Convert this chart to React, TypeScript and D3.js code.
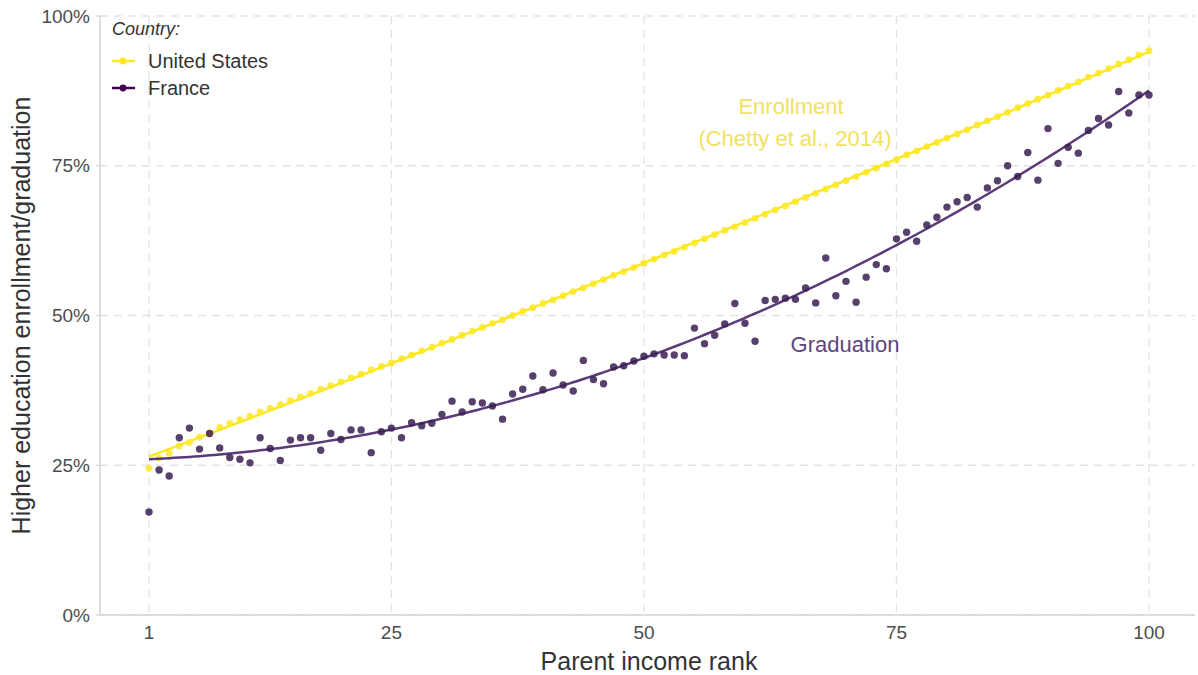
import React from "react";
import * as d3 from "d3";

const ranks: number[] = d3.range(1, 101);

const usEnrollment: number[] = [
  24.5, 26.2, 27.0, 28.2, 28.8, 29.7, 30.4, 31.3, 32.0, 32.6,
  33.2, 33.9, 34.5, 35.1, 35.8, 36.4, 37.0, 37.7, 38.3, 38.9,
  39.6, 40.2, 40.9, 41.5, 42.1, 42.8, 43.4, 44.1, 44.7, 45.4,
  46.0, 46.7, 47.4, 48.0, 48.7, 49.3, 50.0, 50.7, 51.3, 52.0,
  52.6, 53.3, 54.0, 54.6, 55.3, 56.0, 56.7, 57.3, 58.0, 58.7,
  59.4, 60.1, 60.7, 61.4, 62.1, 62.8, 63.5, 64.2, 64.8, 65.5,
  66.2, 66.9, 67.6, 68.3, 69.0, 69.7, 70.4, 71.1, 71.8, 72.5,
  73.2, 73.9, 74.6, 75.3, 76.0, 76.8, 77.5, 78.2, 78.9, 79.6,
  80.3, 81.0, 81.8, 82.5, 83.2, 83.9, 84.7, 85.4, 86.1, 86.8,
  87.6, 88.3, 89.0, 89.8, 90.5, 91.2, 92.0, 92.7, 93.5, 94.2,
];

const franceGraduation: number[] = [
  17.2, 24.2, 23.2, 29.6, 31.2, 27.7, 30.3, 27.9, 26.3, 26.0,
  25.4, 29.6, 27.8, 25.8, 29.2, 29.6, 29.6, 27.5, 30.3, 29.3,
  30.9, 30.9, 27.1, 30.6, 31.2, 29.6, 32.1, 31.6, 32.0, 33.5,
  35.7, 33.9, 35.6, 35.4, 34.9, 32.7, 36.9, 37.7, 39.9, 37.6,
  40.4, 38.4, 37.4, 42.5, 39.3, 38.6, 41.4, 41.6, 42.4, 43.2,
  43.6, 43.4, 43.4, 43.3, 47.9, 45.3, 46.7, 48.6, 52.0, 48.7,
  45.7, 52.5, 52.7, 52.9, 52.7, 54.6, 52.1, 59.6, 53.3, 55.7,
  52.2, 56.4, 58.5, 57.8, 62.8, 63.9, 62.4, 65.1, 66.4, 68.1,
  69.0, 69.7, 68.1, 71.3, 72.5, 75.0, 73.2, 77.2, 72.6, 81.2,
  75.4, 78.1, 77.1, 80.9, 82.9, 81.8, 87.4, 83.8, 86.8, 86.8,
];

const xTicks: number[] = [1, 25, 50, 75, 100];
const yTicks: number[] = [0, 25, 50, 75, 100];

const countries: string[] = ["United States", "France"];

const YELLOW = "#FDE725";
const PURPLE = "#440154";

// quadratic least squares trend (like a smoothing layer)
function quadFit(xs: number[], ys: number[]): (x: number) => number {
  const s = [0, 0, 0, 0, 0];
  const t = [0, 0, 0];
  xs.forEach((x, i) => {
    const y = ys[i];
    s[0] += 1; s[1] += x; s[2] += x * x; s[3] += x * x * x; s[4] += x * x * x * x;
    t[0] += y; t[1] += x * y; t[2] += x * x * y;
  });
  const A = [
    [s[0], s[1], s[2], t[0]],
    [s[1], s[2], s[3], t[1]],
    [s[2], s[3], s[4], t[2]],
  ];
  for (let i = 0; i < 3; i++) {
    for (let k = i + 1; k < 3; k++) {
      const f = A[k][i] / A[i][i];
      for (let j = i; j < 4; j++) A[k][j] -= f * A[i][j];
    }
  }
  const c = [0, 0, 0];
  for (let i = 2; i >= 0; i--) {
    let v = A[i][3];
    for (let j = i + 1; j < 3; j++) v -= A[i][j] * c[j];
    c[i] = v / A[i][i];
  }
  return (x: number) => c[0] + c[1] * x + c[2] * x * x;
}

export default function App() {
  const W = 1198, H = 675;
  const left = 100, right = 1195, top = 16, bottom = 615;
  const x = d3.scaleLinear().domain([1, 100]).range([149, 1149]);
  const y = d3.scaleLinear().domain([0, 100]).range([bottom, top]);

  const usFit = quadFit(ranks, usEnrollment);
  const frFit = quadFit(ranks, franceGraduation);
  const fine = d3.range(1, 100.01, 0.5);
  const line = d3.line<number>().x((d) => x(d));
  const usPath = line.y((d) => y(usFit(d)))(fine) || "";
  const frPath = line.y((d) => y(frFit(d)))(fine) || "";

  const font = "'Liberation Sans', Arial, sans-serif";
  const grid = "#e3e3e3";

  return (
    <svg
      width={W}
      height={H}
      style={{ position: "absolute", left: 0, top: 0, background: "#fff" }}
      fontFamily={font}
    >
      {/* gridlines */}
      {yTicks.map((t) => (
        <line key={"gy" + t} x1={left} x2={right} y1={y(t)} y2={y(t)} stroke={grid} strokeWidth={1.3} strokeDasharray="8,6" />
      ))}
      {xTicks.map((t) => (
        <line key={"gx" + t} x1={x(t)} x2={x(t)} y1={top} y2={bottom} stroke={grid} strokeWidth={1.3} strokeDasharray="8,6" />
      ))}
      {/* axes */}
      <line x1={left} x2={left} y1={top} y2={bottom} stroke="#d4d4d4" strokeWidth={1.5} />
      <line x1={left} x2={right} y1={bottom} y2={bottom} stroke="#d4d4d4" strokeWidth={1.5} />
      {yTicks.map((t) => (
        <g key={"ty" + t}>
          <line x1={left - 4} x2={left} y1={y(t)} y2={y(t)} stroke="#d4d4d4" strokeWidth={1.2} />
          <text x={left - 10} y={y(t)} dy="0.35em" textAnchor="end" fontSize={19} fill="#4d4d4d">
            {t + "%"}
          </text>
        </g>
      ))}
      {xTicks.map((t) => (
        <text key={"tx" + t} x={x(t)} y={bottom + 24} textAnchor="middle" fontSize={19} fill="#4d4d4d">
          {t}
        </text>
      ))}
      <text x={649} y={670} textAnchor="middle" fontSize={25} fill="#333">
        Parent income rank
      </text>
      <text
        transform={`translate(30, ${(top + bottom) / 2}) rotate(-90)`}
        textAnchor="middle"
        fontSize={25}
        fill="#333"
      >
        Higher education enrollment/graduation
      </text>

      {/* US */}
      <path d={usPath} fill="none" stroke={YELLOW} strokeWidth={2.5} />
      {ranks.map((r, i) => (
        <circle key={"us" + r} cx={x(r)} cy={y(usEnrollment[i])} r={3.4} fill={YELLOW} fillOpacity={0.85} />
      ))}
      {/* France */}
      <path d={frPath} fill="none" stroke="#5a3a78" strokeWidth={2.5} />
      {ranks.map((r, i) => (
        <circle key={"fr" + r} cx={x(r)} cy={y(franceGraduation[i])} r={3.7} fill="#3b1f52" fillOpacity={0.85} />
      ))}

      {/* annotations */}
      <text x={791} y={114} textAnchor="middle" fontSize={22} fill="#F2E160">
        Enrollment
      </text>
      <text x={795} y={146} textAnchor="middle" fontSize={22} fill="#F2E160">
        (Chetty et al., 2014)
      </text>
      <text x={845} y={352} textAnchor="middle" fontSize={22} fill="#5e4580">
        Graduation
      </text>

      {/* legend */}
      <text x={112} y={35} fontSize={18} fontStyle="italic" fill="#333">
        Country:
      </text>
      {countries.map((c, i) => {
        const cy = 61 + i * 27;
        const col = i === 0 ? YELLOW : PURPLE;
        return (
          <g key={c}>
            <line x1={112} x2={135} y1={cy} y2={cy} stroke={col} strokeWidth={2.5} />
            <circle cx={123} cy={cy} r={3.4} fill={col} />
            <text x={148} y={cy} dy="0.35em" fontSize={20} fill="#333">
              {c}
            </text>
          </g>
        );
      })}
    </svg>
  );
}
